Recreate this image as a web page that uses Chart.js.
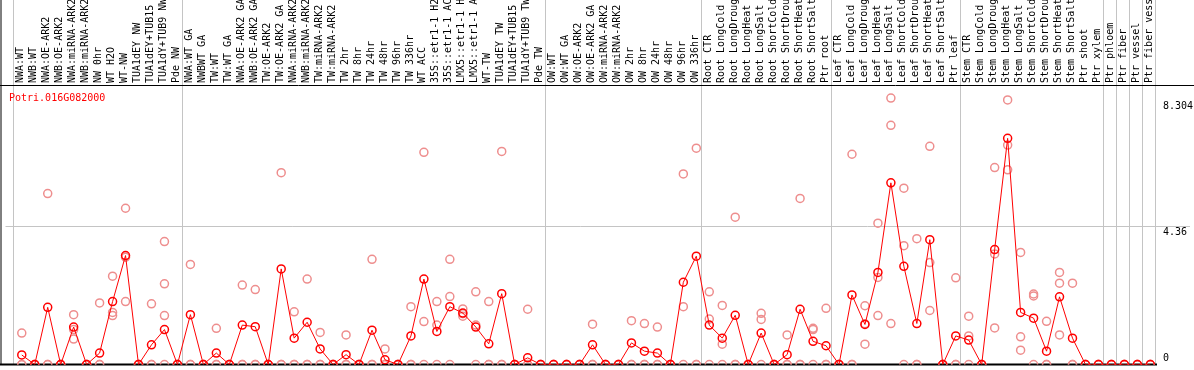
<!DOCTYPE html>
<html>
<head>
<meta charset="utf-8">
<script src="https://cdn.jsdelivr.net/npm/chart.js@4"></script>
<style>
html, body { margin: 0; padding: 0; background: #fff; }
#wrap { width: 1194px; height: 370px; }
</style>
</head>
<body>
<div id="wrap"><canvas id="myChart" width="1194" height="370"></canvas></div>
<script>
const geneName = 'Potri.016G082000';

const samples = [
    'NWA:WT', 'NWB:WT', 'NWA:OE-ARK2', 'NWB:OE-ARK2', 'NWA:miRNA-ARK2', 'NWB:miRNA-ARK2',
    'NW 0hr', 'WT H2O', 'WT-NW', 'TUA1dEY NW', 'TUA1dEY+TUB15 NW', 'TUA1dY+TUB9 NW', 'Pde NW',
    'NWA:WT GA', 'NWBWT GA', 'TW:WT', 'TW:WT GA', 'NWA:OE-ARK2 GA', 'NWB:OE-ARK2 GA',
    'TW:OE-ARK2', 'TW:OE-ARK2 GA', 'NWA:miRNA-ARK2 GA', 'NWB:miRNA-ARK2 GA', 'TW:miRNA-ARK2',
    'TW:miRNA-ARK2 GA', 'TW 2hr', 'TW 8hr', 'TW 24hr', 'TW 48hr', 'TW 96hr', 'TW 336hr',
    'WT ACC', '35S::etr1-1 H2O', '35S::etr1-1 ACC', 'LMX5::etr1-1 H2O', 'LMX5::etr1-1 ACC',
    'WT-TW', 'TUA1dEY TW', 'TUA1dEY+TUB15 TW', 'TUA1dY+TUB9 TW', 'Pde TW',
    'OW:WT', 'OW:WT GA', 'OW:OE-ARK2', 'OW:OE-ARK2 GA', 'OW:miRNA-ARK2', 'OW:miRNA-ARK2 GA',
    'OW 2hr', 'OW 8hr', 'OW 24hr', 'OW 48hr', 'OW 96hr', 'OW 336hr',
    'Root CTR', 'Root LongCold', 'Root LongDrought', 'Root LongHeat', 'Root LongSalt',
    'Root ShortCold', 'Root ShortDrought', 'Root ShortHeat', 'Root ShortSalt', 'Ptr root',
    'Leaf CTR', 'Leaf LongCold', 'Leaf LongDrought', 'Leaf LongHeat', 'Leaf LongSalt',
    'Leaf ShortCold', 'Leaf ShortDrought', 'Leaf ShortHeat', 'Leaf ShortSalt', 'Ptr leaf',
    'Stem CTR', 'Stem LongCold', 'Stem LongDrought', 'Stem LongHeat', 'Stem LongSalt',
    'Stem ShortCold', 'Stem ShortDrought', 'Stem ShortHeat', 'Stem ShortSalt',
    'Ptr shoot', 'Ptr xylem', 'Ptr phloem', 'Ptr fiber', 'Ptr vessel', 'Ptr fiber vessel'
];

// mean expression (red line)
const means = [
    0.30, 0, 1.80, 0, 1.18, 0, 0.36, 1.98, 3.43, 0, 0.62, 1.10, 0,
    1.57, 0, 0.36, 0, 1.24, 1.19, 0, 3.01, 0.83, 1.33, 0.49, 0, 0.31, 0, 1.08, 0.15, 0, 0.90,
    2.69, 1.04, 1.82, 1.62, 1.18, 0.65, 2.23, 0, 0.21, 0,
    0, 0, 0, 0.62, 0, 0, 0.68, 0.42, 0.36, 0, 2.59, 3.41,
    1.24, 0.83, 1.55, 0, 0.99, 0, 0.31, 1.74, 0.73, 0.59,
    0, 2.19, 1.26, 2.90, 5.72, 3.09, 1.29, 3.93, 0, 0.90,
    0.77, 0, 3.62, 7.12, 1.64, 1.46, 0.42, 2.13, 0.83,
    0, 0, 0, 0, 0, 0
];

// replicates (pink circles)
const rep1 = [
    0.99, 0, 5.38, 0, 1.57, 0, 1.94, 2.78, 4.92, 0, 1.91, 3.87, 0,
    3.15, 0, 1.14, 0, 2.50, 2.36, 0, 6.04, 1.66, 2.69, 1.01, 0, 0.93, 0, 3.31, 0.49, 0, 1.82,
    6.68, 1.98, 3.31, 1.75, 2.29, 1.98, 6.71, 0, 1.74, 0,
    0, 0, 0, 1.27, 0, 0, 1.38, 1.29, 1.18, 0, 6.00, 6.81,
    2.29, 1.86, 4.64, 0, 1.61, 0, 0.93, 5.23, 1.14, 1.77,
    0, 6.62, 1.85, 4.45, 8.39, 5.55, 3.96, 6.87, 0, 2.73,
    1.52, 0, 6.20, 8.33, 3.53, 2.22, 1.36, 2.90, 2.56,
    0, 0, 0, 0, 0, 0
];
const rep2 = [
    0, 0, 0, 0, 1.10, 0, 0, 1.64, 3.38, 0, 0, 2.54, 0,
    0, 0, 0, 0, 0, 0, 0, 0, 0, 0, 0, 0, 0, 0, 0, 0, 0, 0,
    1.35, 1.24, 2.14, 1.60, 1.24, 0, 0, 0, 0, 0,
    0, 0, 0, 0, 0, 0, 0, 0, 0, 0, 1.82, 0,
    1.43, 0.64, 0, 0, 1.42, 0, 0, 0, 1.10, 0,
    0, 0, 1.28, 2.74, 7.53, 3.74, 0, 3.21, 0, 0,
    0.90, 0, 3.48, 6.91, 0.87, 2.16, 0, 2.56, 0,
    0, 0, 0, 0, 0, 0
];
const rep3 = [
    0, 0, 0, 0, 0.80, 0, 0, 1.54, 1.98, 0, 0, 1.54, 0,
    0, 0, 0, 0, 0, 0, 0, 0, 0, 0, 0, 0, 0, 0, 0, 0, 0, 0,
    0, 0, 0, 1.52, 0, 0, 0, 0, 0, 0,
    0, 0, 0, 0, 0, 0, 0, 0, 0, 0, 0, 0,
    0, 0, 0, 0, 0, 0, 0, 0, 0, 0,
    0, 0, 0.64, 1.54, 1.29, 0, 0, 1.70, 0, 0,
    0, 0, 1.15, 6.13, 0.45, 0, 0, 0.93, 0,
    0, 0, 0, 0, 0, 0
];
const extraReps = [{ i: 11, v: 0 }];

// last sample index of each group (-1 = left edge)
const groupEnds = [-1, 12, 40, 52, 62, 72, 83, 84, 85, 86, 87];
const yTicks = [0, 4.36, 8.304];

const red = '#ff0000';
const pink = '#ee8e8e';
const gridGray = '#c4c4c4';
const monoFont = { family: 'DejaVu Sans Mono', size: 10 };

const toPoints = arr => arr.map((v, i) => ({ x: i, y: v }));

const framePlugin = {
    id: 'frame',
    beforeDatasetsDraw(chart) {
        const { ctx, chartArea, scales: { x } } = chart;
        ctx.save();
        ctx.lineWidth = 1;
        ctx.strokeStyle = gridGray;
        groupEnds.forEach(e => {
            const px = Math.round(x.getPixelForValue(e + 0.36)) + 0.5;
            ctx.beginPath();
            ctx.moveTo(px, 0);
            ctx.lineTo(px, chartArea.bottom);
            ctx.stroke();
        });
        ctx.strokeStyle = '#000';
        ctx.beginPath();
        ctx.moveTo(0, chartArea.top + 0.5);
        ctx.lineTo(chart.width, chartArea.top + 0.5);
        ctx.moveTo(1, 0);
        ctx.lineTo(1, chartArea.bottom);
        ctx.stroke();
        ctx.lineWidth = 2;
        ctx.beginPath();
        ctx.moveTo(0, chartArea.bottom);
        ctx.lineTo(chartArea.right + 2, chartArea.bottom);
        ctx.stroke();
        ctx.restore();
    },
    afterDraw(chart) {
        const { ctx, chartArea, scales: { y } } = chart;
        ctx.save();
        ctx.font = '10px "DejaVu Sans Mono"';
        ctx.textBaseline = 'alphabetic';
        ctx.fillStyle = red;
        ctx.fillText(geneName, 9, chartArea.top + 16);
        ctx.fillStyle = '#000';
        yTicks.forEach(t => {
            const py = y.getPixelForValue(t);
            ctx.fillText(String(t), chartArea.right + 8, t === 0 ? py - 4 : py + 8.5);
        });
        ctx.restore();
    }
};

const ctx = document.getElementById('myChart').getContext('2d');

const repStyle = {
    type: 'scatter',
    showLine: false,
    pointRadius: 4,
    pointBorderWidth: 1.5,
    borderColor: pink,
    backgroundColor: 'rgba(0,0,0,0)',
    order: 1
};

new Chart(ctx, {
    type: 'line',
    data: {
        datasets: [
            {
                data: toPoints(means),
                borderColor: red,
                borderWidth: 1,
                pointRadius: 4,
                pointBorderWidth: 1.5,
                pointBorderColor: red,
                pointBackgroundColor: 'rgba(0,0,0,0)',
                tension: 0,
                order: 0
            },
            { ...repStyle, data: toPoints(rep1) },
            { ...repStyle, data: toPoints(rep2) },
            { ...repStyle, data: toPoints(rep3) },
            { ...repStyle, data: extraReps.map(p => ({ x: p.i, y: p.v })) }
        ]
    },
    options: {
        responsive: false,
        animation: false,
        devicePixelRatio: 1,
        events: [],
        layout: { padding: { left: 3, right: 0, top: 0, bottom: 1 } },
        scales: {
            x: {
                type: 'linear',
                position: 'top',
                min: -1.254,
                max: 87.36,
                afterBuildTicks: s => { s.ticks = samples.map((_, i) => ({ value: i })); },
                afterFit: s => { s.height = 85; },
                grid: { display: false, drawTicks: false },
                border: { display: false },
                ticks: {
                    autoSkip: false,
                    minRotation: 90,
                    maxRotation: 90,
                    padding: 2,
                    labelOffset: 11,
                    color: '#000',
                    font: monoFont,
                    callback: v => samples[v]
                }
            },
            y: {
                type: 'linear',
                position: 'right',
                min: 0,
                max: 8.8,
                afterBuildTicks: s => { s.ticks = yTicks.map(v => ({ value: v })); },
                afterFit: s => { s.width = 39; },
                border: { display: false },
                grid: {
                    color: c => (c.tick && c.tick.value === 4.36 ? gridGray : 'rgba(0,0,0,0)'),
                    tickLength: 35
                },
                ticks: { display: false }
            }
        },
        plugins: {
            legend: { display: false },
            tooltip: { enabled: false }
        }
    },
    plugins: [framePlugin]
});
</script>
</body>
</html>
